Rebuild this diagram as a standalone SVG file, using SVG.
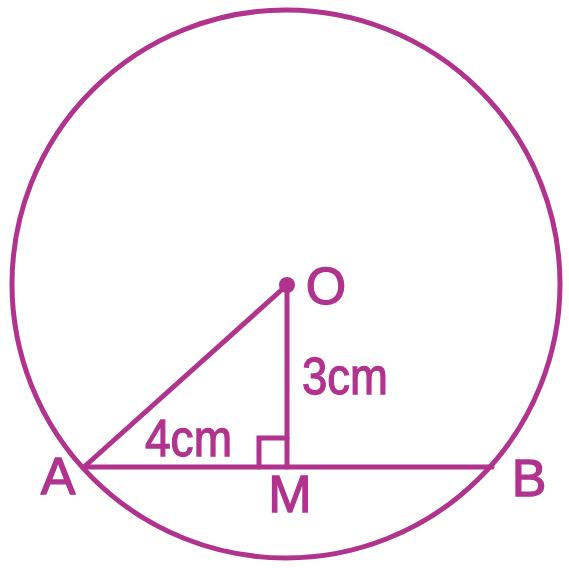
<svg xmlns="http://www.w3.org/2000/svg" width="569" height="568" viewBox="0 0 569 568">
<style>
.ln{fill:none;stroke:#b0338e;stroke-width:5;stroke-linecap:round}
.lbl{font-family:"Liberation Sans",Arial,sans-serif;font-size:52px;fill:#b0338e;stroke:#b0338e;stroke-width:1.3}
</style>
<rect width="569" height="568" fill="#ffffff"/>
<g id="circle"><circle class="ln" cx="286" cy="284" r="274"/></g>
<g id="connectors">
<line class="ln" x1="287" y1="285" x2="84" y2="467"/>
<line class="ln" x1="83" y1="467" x2="492" y2="467"/>
<line class="ln" x1="287" y1="285" x2="287" y2="467"/>
<polyline class="ln" points="259,467 259,438 287,438" stroke-width="4"/>
</g>
<g id="O"><circle cx="287" cy="285" r="8" fill="#b0338e"/><text class="lbl" x="326" y="304" text-anchor="middle">O</text></g>
<g id="A"><text class="lbl" x="58" y="494" text-anchor="middle">A</text></g>
<g id="M"><text class="lbl" x="290" y="512" text-anchor="middle">M</text></g>
<g id="B"><text class="lbl" x="529" y="496" text-anchor="middle">B</text></g>
<g id="lbl3"><text class="lbl" x="302" y="394" textLength="86" lengthAdjust="spacingAndGlyphs">3cm</text></g>
<g id="lbl4"><text class="lbl" x="145" y="456" textLength="87" lengthAdjust="spacingAndGlyphs">4cm</text></g>
</svg>
